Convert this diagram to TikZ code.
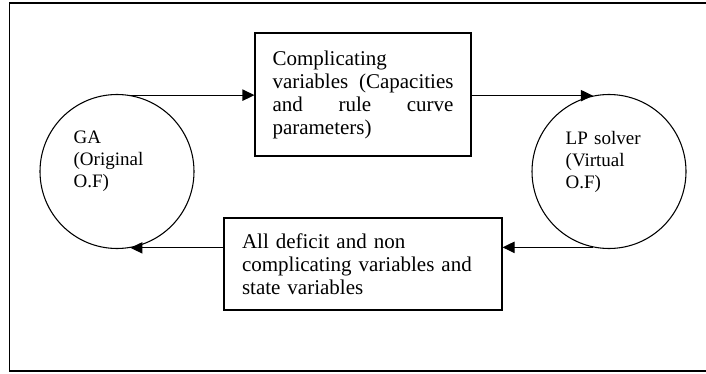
\documentclass[tikz,border=0pt]{standalone}
\usepackage{fontspec}
\setmainfont{Liberation Serif}
\usetikzlibrary{arrows.meta}
\begin{document}
\begin{tikzpicture}[x=0.75pt,y=-0.75pt,
  line width=0.8pt,
  box/.style={draw, rectangle, inner sep=0pt, align=left, font=\fontsize{15.75}{17.25}\selectfont},
  circ/.style={draw, circle, minimum size=115.5pt, inner sep=0pt},
  ctext/.style={align=left, text width=65pt, inner sep=0pt, font=\fontsize{14.25}{16.5}\selectfont},
  arr/.style={-{Triangle[length=9pt,width=8.5pt]}}]
\useasboundingbox (0,0) rectangle (706,374);
\draw (706,3) -- (9.5,3) -- (9.5,371) -- (706,371);
\node[box, minimum width=162pt, minimum height=92.25pt, text width=135.75pt] (box1) at (363,94.5)
  {Complicating\\ variables\hfill(Capacities\\ and\hfill rule\hfill curve\\ parameters)};
\node[box, minimum width=208.5pt, minimum height=69pt, text width=181.5pt] (box2) at (363,264)
  {All deficit and non\\ complicating variables and\\ state variables};
\node[circ] (ga) at (117,171.5) {};
\node[circ] (lp) at (609,171.5) {};
\node[ctext] (gatext) at ([yshift=7.5pt]ga.center) {GA\\(Original\\O.F)};
\node[ctext] (lptext) at ([yshift=7.5pt]lp.center) {LP solver\\(Virtual\\O.F)};
\draw[arr] (ga.80) -- (ga.80 -| box1.west);
\draw[arr] (box1.east |- lp.102) -- (lp.102);
\draw[arr] (lp.-102) -- (lp.-102 -| box2.east);
\draw[arr] (box2.west |- ga.-80) -- (ga.-80);
\end{tikzpicture}
\end{document}
